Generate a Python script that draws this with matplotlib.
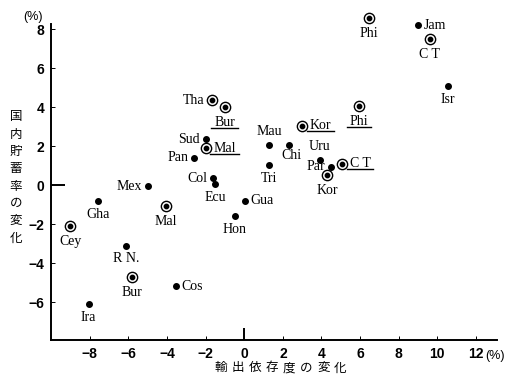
import matplotlib
matplotlib.use("Agg")
import matplotlib.pyplot as plt
from matplotlib.lines import Line2D
from matplotlib.transforms import IdentityTransform

# Data: change in export dependence (x) vs change in domestic saving rate (y)
names = ["Jam", "C T", "Isr", "Phi", "Tha", "Bur", "Sud", "Mal", "Pan", "Col",
         "Ecu", "Gua", "Hon", "Tri", "Mau", "Chi", "Kor", "Uru", "Par", "Kor",
         "C T", "Phi", "Mex", "Gha", "Cey", "Mal", "R N.", "Bur", "Cos", "Ira"]
x_vals = [9.0, 9.6, 10.55, 6.45, -1.65, -1.0, -2.0, -2.0, -2.6, -1.6,
          -1.5, 0.05, -0.5, 1.3, 1.3, 2.3, 3.0, 3.9, 4.5, 4.3,
          5.05, 5.95, -5.0, -7.55, -9.0, -4.05, -6.1, -5.8, -3.55, -8.05]
y_vals = [8.2, 7.5, 5.1, 8.6, 4.35, 4.0, 2.35, 1.9, 1.4, 0.35,
          0.05, -0.8, -1.6, 1.05, 2.05, 2.05, 3.05, 1.3, 0.95, 0.5,
          1.1, 4.05, -0.05, -0.8, -2.1, -1.05, -3.1, -4.7, -5.2, -6.1]
circled = [False, True, False, True, True, True, False, True, False, False,
           False, False, False, False, False, False, True, False, False, True,
           True, True, False, False, True, True, False, True, False, False]
underlined = [False, False, False, False, False, True, False, True, False, False,
              False, False, False, False, False, False, True, False, False, False,
              True, True, False, False, False, False, False, False, False, False]

# label placement around each point (style only)
placement = ["r", "b", "b", "b", "l", "b", "l", "r", "l", "l",
             "b", "r", "b", "b", "t", "bc", "r", "t", "l", "b",
             "r", "b", "l", "b", "b", "b", "b", "b", "r", "b"]

x_ticks = [-8, -6, -4, -2, 0, 2, 4, 6, 8, 10, 12]
y_ticks = [-6, -4, -2, 0, 2, 4, 6, 8]
x_title = "輸出依存度の変化"
y_title = "国内貯蓄率の変化"

fig = plt.figure(figsize=(5.1, 3.77), dpi=100)
ax = fig.add_axes([0.1, 0.098, 0.875, 0.838])
ax.set_xlim(-10.0, 13.1)
ax.set_ylim(-7.95, 8.26)

for side in ["top", "right"]:
    ax.spines[side].set_visible(False)
for side in ["left", "bottom"]:
    ax.spines[side].set_linewidth(1.4)

ax.set_xticks(x_ticks)
ax.set_yticks(y_ticks)
tick_font = dict(family="Liberation Sans", weight="bold", size=10)
ax.set_xticklabels([str(v).replace("-", "\u2212") for v in x_ticks], **tick_font)
ax.set_yticklabels([str(v).replace("-", "\u2212") for v in y_ticks], **tick_font)
ax.tick_params(direction="in", length=3, width=0.7, pad=5)
# longer reference tick at zero on both axes
for t in ax.xaxis.get_major_ticks():
    if abs(t.get_loc()) < 1e-9:
        t.tick1line.set_markersize(9)
        t.tick1line.set_markeredgewidth(1.4)
for t in ax.yaxis.get_major_ticks():
    if abs(t.get_loc()) < 1e-9:
        t.tick1line.set_markersize(10)
        t.tick1line.set_markeredgewidth(1.4)

offsets = {"r": ((4, 0), "left", "center"),
           "l": ((-4, 0), "right", "center"),
           "b": ((0, -5), "center", "top"),
           "t": ((0, 5), "center", "bottom"),
           "bc": ((2, -3), "center", "top")}

label_texts = []
for i, name in enumerate(names):
    if circled[i]:
        ax.scatter(x_vals[i], y_vals[i], s=55, facecolor="white",
                   edgecolor="black", linewidth=1.0, zorder=3, clip_on=False)
        ax.scatter(x_vals[i], y_vals[i], s=10, color="black", zorder=4,
                   clip_on=False)
    else:
        ax.scatter(x_vals[i], y_vals[i], s=16, color="black", zorder=4,
                   clip_on=False)
    off, ha, va = offsets[placement[i]]
    if circled[i]:
        off = (off[0] * 1.4, off[1] * 1.3)
    t = ax.annotate(name, (x_vals[i], y_vals[i]), xytext=off,
                    textcoords="offset points", ha=ha, va=va,
                    family="Liberation Serif", fontsize=10,
                    annotation_clip=False)
    label_texts.append(t)

# axis titles
fig.text(0.065, 0.955, "(%)", family="Liberation Sans", fontsize=9,
         ha="center", va="center")
fig.text(0.99, 0.098 - 0.043, "(%)", family="Liberation Sans", fontsize=9,
         ha="right", va="center")
for k, ch in enumerate(y_title):
    fig.text(0.031, 0.69 - k * 0.046, ch, family="Noto Sans CJK JP",
             fontsize=9, ha="center", va="center")
for k, ch in enumerate(x_title):
    fig.text(0.433 + k * 0.0335, 0.024, ch, family="Noto Sans CJK JP",
             fontsize=9, ha="center", va="center")

# underline the marked labels
fig.canvas.draw()
renderer = fig.canvas.get_renderer()
for i, t in enumerate(label_texts):
    if underlined[i]:
        bb = t.get_window_extent(renderer)
        fig.add_artist(Line2D([bb.x0 - 3, bb.x1 + 3], [bb.y0 + 1, bb.y0 + 1],
                              transform=IdentityTransform(), color="black",
                              linewidth=1.0))

fig.savefig("out.png", dpi=100)
